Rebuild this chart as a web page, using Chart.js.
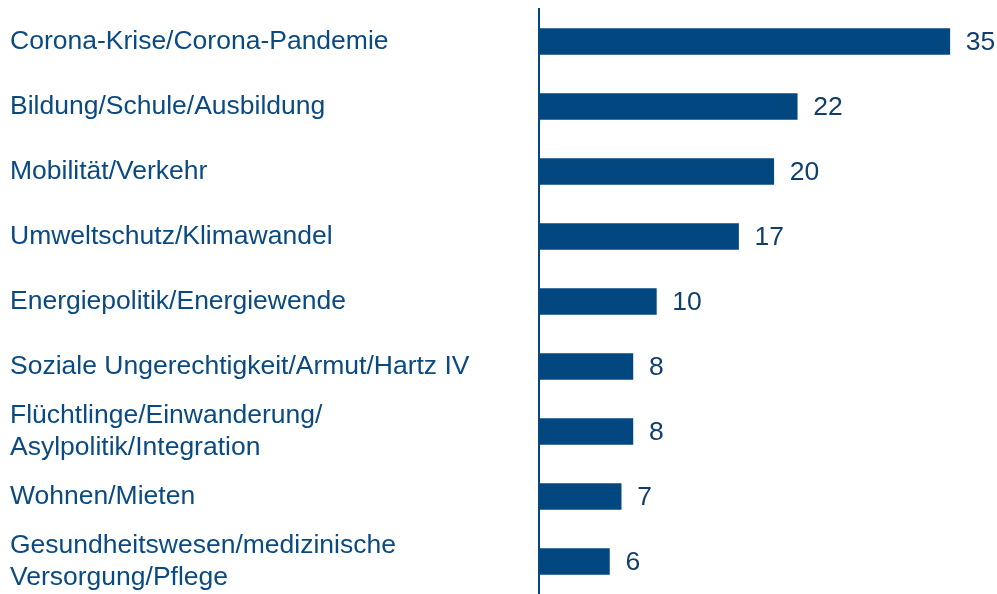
<!DOCTYPE html>
<html>
<head>
<meta charset="utf-8">
<script src="https://cdn.jsdelivr.net/npm/chart.js@4"></script>
<style>
html,body{margin:0;padding:0;background:#fff;}
#wrap{width:997px;height:594px;position:relative;}
</style>
</head>
<body>
<div id="wrap"><canvas id="c"></canvas></div>
<script>
const categories = [
  "Corona-Krise/Corona-Pandemie",
  "Bildung/Schule/Ausbildung",
  "Mobilität/Verkehr",
  "Umweltschutz/Klimawandel",
  "Energiepolitik/Energiewende",
  "Soziale Ungerechtigkeit/Armut/Hartz IV",
  ["Flüchtlinge/Einwanderung/", "Asylpolitik/Integration"],
  "Wohnen/Mieten",
  ["Gesundheitswesen/medizinische", "Versorgung/Pflege"]
];
const values = [35, 22, 20, 17, 10, 8, 8, 7, 6];

const BLUE = '#02477f';
const TEXT = '#0a4a82';
const FONT = '"Liberation Sans", Arial, sans-serif';

const valueLabels = {
  id: 'valueLabels',
  afterDatasetsDraw(chart) {
    const ctx = chart.ctx;
    const meta = chart.getDatasetMeta(0);
    ctx.save();
    ctx.font = '26.5px ' + FONT;
    ctx.fillStyle = '#113f6c';
    ctx.textAlign = 'left';
    ctx.textBaseline = 'middle';
    meta.data.forEach((bar, i) => {
      ctx.fillText(String(values[i]), bar.x + 16, bar.y + 1);
    });
    ctx.restore();
  }
};

new Chart(document.getElementById('c'), {
  type: 'bar',
  data: {
    labels: categories,
    datasets: [{
      data: values,
      backgroundColor: BLUE,
      borderWidth: 0,
      barThickness: 26,
      categoryPercentage: 1
    }]
  },
  options: {
    indexAxis: 'y',
    responsive: true,
    maintainAspectRatio: false,
    animation: false,
    layout: { padding: { left: 10, right: 12, top: 9, bottom: 0 } },
    plugins: { legend: { display: false }, tooltip: { enabled: false } },
    scales: {
      x: {
        display: false,
        min: 0,
        max: 38
      },
      y: {
        afterFit(scale) {
          scale.width = 529;
          scale.paddingTop = 0;
          scale.paddingBottom = 0;
        },
        grid: { display: false, drawTicks: false },
        border: { display: true, color: BLUE, width: 2 },
        ticks: {
          crossAlign: 'far',
          color: TEXT,
          font: { family: FONT, size: 26.5, lineHeight: 1.2 },
          padding: 0,
          autoSkip: false
        }
      }
    }
  },
  plugins: [valueLabels]
});
</script>
</body>
</html>
